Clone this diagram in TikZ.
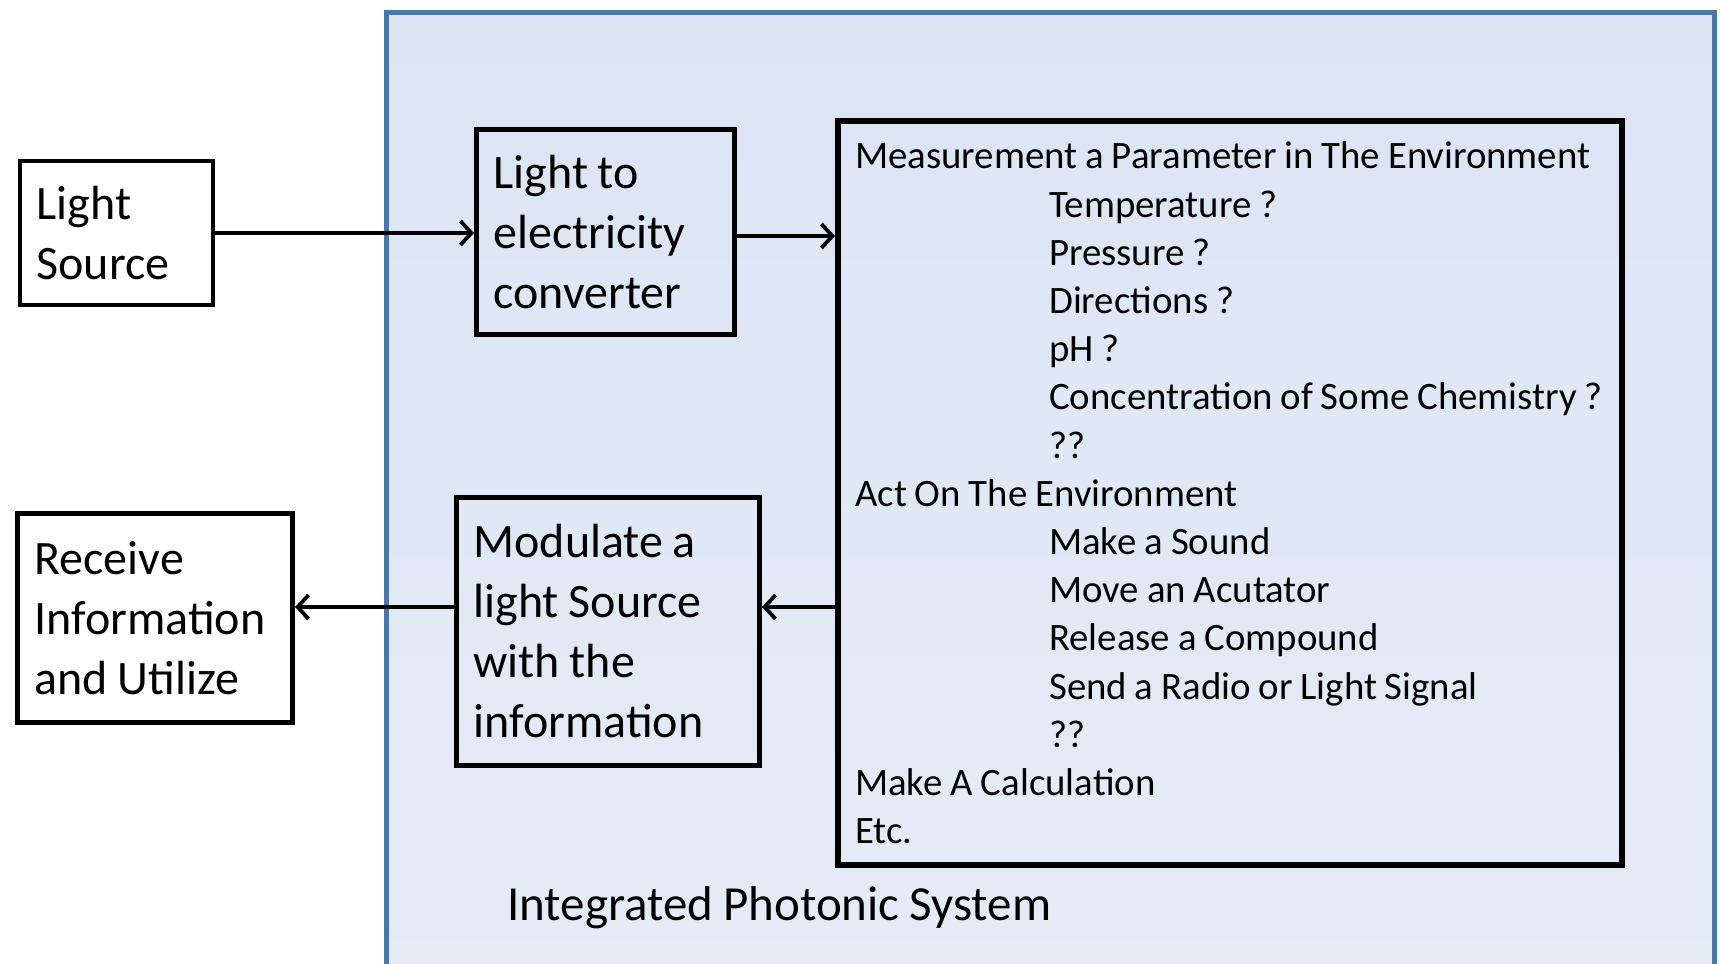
\documentclass[tikz,border=0pt]{standalone}
\usepackage{fontspec}
\setmainfont{Carlito}[WordSpace=0.9]
\usetikzlibrary{arrows.meta}
\definecolor{frameblue}{HTML}{4A77A8}
\definecolor{bgtop}{HTML}{DCE4F4}
\definecolor{bgmid}{HTML}{CAD7EE}
\definecolor{bgbot}{HTML}{E6ECF6}
\tikzset{
  blk/.style={draw=black, line width=5pt, align=flush left, inner xsep=17pt, inner ysep=0pt,
    font=\fontsize{48}{60}\selectfont, anchor=north west},
  outblk/.style={blk, fill=white},
  arr/.style={line width=3.8pt, -{Straight Barb[length=11pt,width=24pt]}},
}
\begin{document}
\begin{tikzpicture}[x=1pt,y=-1pt]
\useasboundingbox (0,0) rectangle (1720,963);
\fill[white] (0,0) rectangle (1720,963);
\begin{scope}
\clip (0,0) rectangle (1720,963);
\shade[top color=bgtop, middle color=bgmid, bottom color=bgbot] (386,13) rectangle (1714,1000);
\draw[frameblue, line width=5pt] (386,1000) -- (386,13) -- (1714,13) -- (1714,1000);
\end{scope}

\node[outblk, line width=4pt, text width=159.5pt, minimum height=144pt] (src) at (17.5,159) {Light\\Source};
\node[blk, text width=224pt, minimum height=205pt] (conv) at (474,127) {Light to\\electricity\\converter};
\node[blk, text width=269pt, minimum height=268pt] (mod) at (454,495) {Modulate a\\light Source\\with the\\information};
\node[outblk, text width=241pt, minimum height=209pt] (rec) at (15,511) {Receive\\Information\\and Utilize};

\node[draw=black, line width=6pt, anchor=north west, inner sep=0pt,
  minimum width=784pt, minimum height=744pt] (meas) at (835,118) {};
\node[anchor=west, align=left, inner sep=0pt, font=\fontsize{38.8}{48.2}\selectfont] (list)
  at ([xshift=20pt]meas.west)
{Measurement a Parameter in The Environment\\
\hspace*{194pt}Temperature ?\\
\hspace*{194pt}Pressure ?\\
\hspace*{194pt}Directions ?\\
\hspace*{194pt}pH ?\\
\hspace*{194pt}Concentration of Some Chemistry ?\\
\hspace*{194pt}??\\
Act On The Environment\\
\hspace*{194pt}Make a Sound\\
\hspace*{194pt}Move an Acutator\\
\hspace*{194pt}Release a Compound\\
\hspace*{194pt}Send a Radio or Light Signal\\
\hspace*{194pt}??\\
Make A Calculation\\
Etc.};

\node[anchor=west, inner sep=0pt, font=\fontsize{49}{60}\selectfont] (title) at (507,908) {Integrated Photonic System};

\draw[arr] (src.east) -- (src.east -| conv.west);
\draw[arr] ([yshift=-4pt]conv.east) -- ([yshift=-4pt]conv.east -| meas.west);
\coordinate (ly) at (0,607);
\draw[arr] (meas.west |- ly) -- (mod.east |- ly);
\draw[arr] (mod.west |- ly) -- (rec.east |- ly);
\end{tikzpicture}
\end{document}
